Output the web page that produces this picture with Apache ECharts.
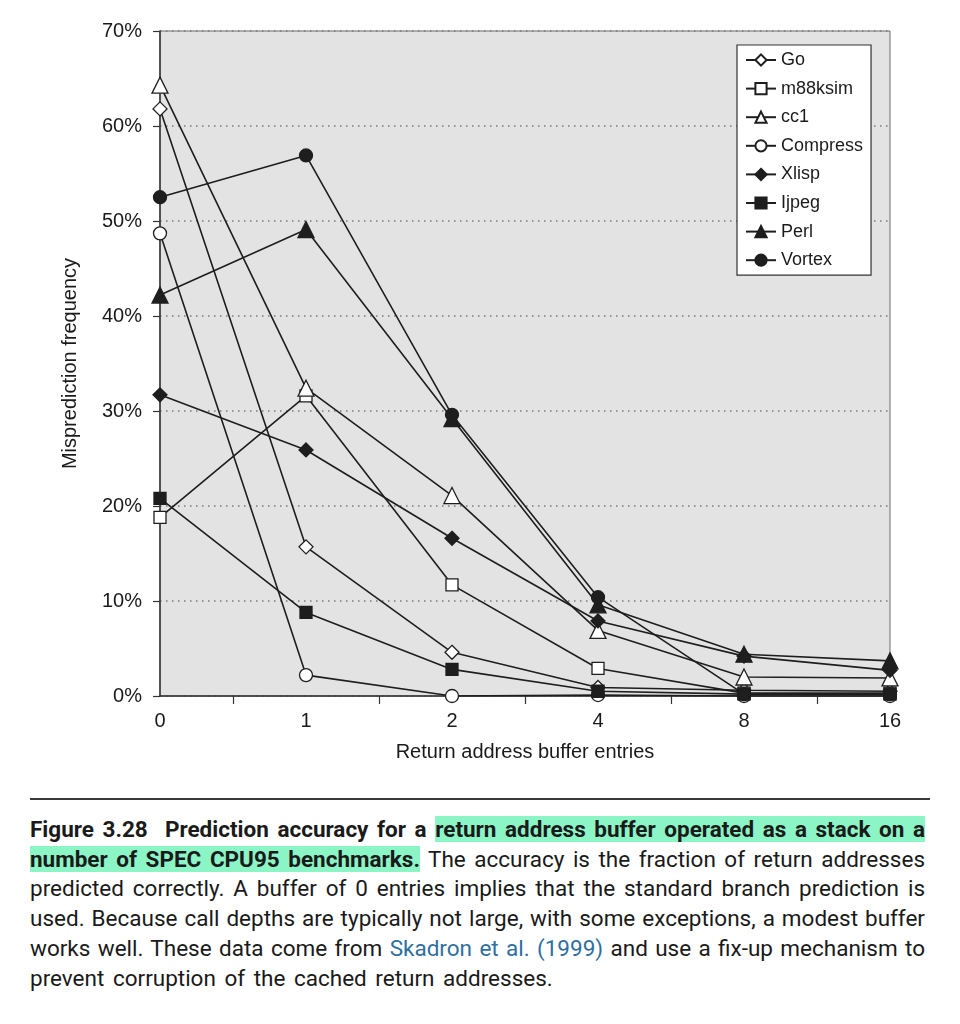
<!DOCTYPE html>
<html>
<head>
<meta charset="utf-8">
<script src="https://cdn.jsdelivr.net/npm/echarts@6/dist/echarts.min.js"></script>
<style>
  html, body { margin: 0; padding: 0; background: #fff; }
  #chart { position: absolute; left: 0; top: 0; width: 960px; height: 790px; }
  #rule { position: absolute; left: 30px; top: 798px; width: 900px; height: 0; border-top: 2px solid #3a3a3a; }
  #caption { position: absolute; left: 30px; top: 815px; width: 895px; font-family: Roboto, "Liberation Sans", sans-serif;
    font-size: 22.5px; line-height: 29.7px; color: #1a1a1a; white-space: nowrap; }
  #caption div { text-align: justify; text-align-last: justify; }
  #caption div.last { text-align: left; text-align-last: left; word-spacing: 3px; }
  #caption b { font-weight: 700; }
  .hl { background: #8cf5c6; }
  .link { color: #2f6f9f; }
</style>
</head>
<body>
<div id="chart"></div>
<div id="rule"></div>
<div id="caption">
  <div><b>Figure 3.28&nbsp; Prediction accuracy for a <span class="hl">return address buffer operated as a stack on a</span></b></div>
  <div><b><span class="hl">number of SPEC CPU95 benchmarks.</span></b> The accuracy is the fraction of return addresses</div>
  <div>predicted correctly. A buffer of 0 entries implies that the standard branch prediction is</div>
  <div>used. Because call depths are typically not large, with some exceptions, a modest buffer</div>
  <div>works well. These data come from <span class="link">Skadron et al. (1999)</span> and use a fix-up mechanism to</div>
  <div class="last">prevent corruption of the cached return addresses.</div>
</div>
<script>
// Buffer entries (x categories)
var categories = ['0', '1', '2', '4', '8', '16'];
// Y tick values (percent)
var yTicks = [0, 10, 20, 30, 40, 50, 60, 70];
// Misprediction frequency (%) per benchmark
var go       = [61.8, 15.7, 4.6, 0.9, 0.6, 0.5];
var m88ksim  = [18.8, 31.6, 11.7, 2.9, 0.3, 0.3];
var cc1      = [64.3, 32.4, 21.1, 6.9, 2.0, 1.9];
var compress = [48.7, 2.2, 0.0, 0.1, 0.0, 0.0];
var xlisp    = [31.7, 25.9, 16.6, 7.9, 4.2, 2.7];
var ljpeg    = [20.8, 8.8, 2.8, 0.5, 0.2, 0.2];
var perl     = [42.2, 49.1, 29.2, 9.6, 4.4, 3.7];
var vortex   = [52.5, 56.9, 29.6, 10.4, 0.2, 0.2];

var names = ['Go', 'm88ksim', 'cc1', 'Compress', 'Xlisp', 'Ijpeg', 'Perl', 'Vortex'];
var values = [go, m88ksim, cc1, compress, xlisp, ljpeg, perl, vortex];
var symbols = ['diamond', 'rect', 'triangle', 'circle', 'diamond', 'rect', 'triangle', 'circle'];
var sizes = [14, 12, 16, 13, 14, 12, 16, 13];
var filled = [false, false, false, false, true, true, true, true];

var INK = '#1e1e1e';
var FONT = '"Liberation Sans", Arial, sans-serif';
var series = names.map(function (n, k) {
  return {
    name: n,
    type: 'line',
    data: values[k].map(function (v, i) { return [i, v]; }),
    symbol: symbols[k],
    symbolSize: sizes[k],
    showAllSymbol: true,
    lineStyle: { color: INK, width: 1.6 },
    itemStyle: { color: filled[k] ? INK : '#ffffff', borderColor: INK, borderWidth: 1.3 },
    emphasis: { disabled: true },
    animation: false
  };
});

var chart = echarts.init(document.getElementById('chart'));
chart.setOption({
  animation: false,
  textStyle: { fontFamily: FONT },
  grid: {
    left: 160, right: 70, top: 31, bottom: 94,
    show: true, backgroundColor: '#e3e3e3', borderColor: '#6a6a6a', borderWidth: 1
  },
  legend: {
    orient: 'vertical',
    left: 737, top: 45,
    backgroundColor: '#ffffff',
    borderColor: '#333', borderWidth: 1.2,
    padding: [6, 8, 6, 8],
    itemWidth: 30, itemHeight: 14, itemGap: 10.6,
    textStyle: { fontSize: 18, lineHeight: 18, color: '#1a1a1a', fontFamily: FONT },
    data: names
  },
  xAxis: {
    type: 'value',
    min: 0, max: categories.length - 1, interval: 1,
    name: 'Return address buffer entries',
    nameLocation: 'middle', nameGap: 46,
    nameTextStyle: { fontSize: 20, color: '#1a1a1a' },
    axisLine: { show: true, lineStyle: { color: '#333', width: 1.5 } },
    axisTick: { show: false },
    minorTick: { show: true, splitNumber: 2, length: 8, lineStyle: { color: '#333', width: 1.2 } },
    splitLine: { show: false },
    minorSplitLine: { show: false },
    axisLabel: {
      fontSize: 20, color: '#1a1a1a', margin: 15,
      formatter: function (v) { return categories[v] !== undefined ? categories[v] : ''; }
    }
  },
  yAxis: {
    type: 'value',
    min: yTicks[0], max: yTicks[yTicks.length - 1], interval: 10,
    name: 'Misprediction frequency',
    nameLocation: 'middle', nameGap: 80,
    nameTextStyle: { fontSize: 20, color: '#1a1a1a' },
    axisLine: { show: true, lineStyle: { color: '#333', width: 1.5 } },
    axisTick: { show: true, length: 7, lineStyle: { color: '#333', width: 1.2 } },
    splitLine: { show: true, lineStyle: { color: '#7a7a7a', width: 1.5, type: [1.5, 4.5] } },
    axisLabel: { fontSize: 20, color: '#1a1a1a', margin: 18, formatter: '{value}%' }
  },
  series: series
});
</script>
</body>
</html>
